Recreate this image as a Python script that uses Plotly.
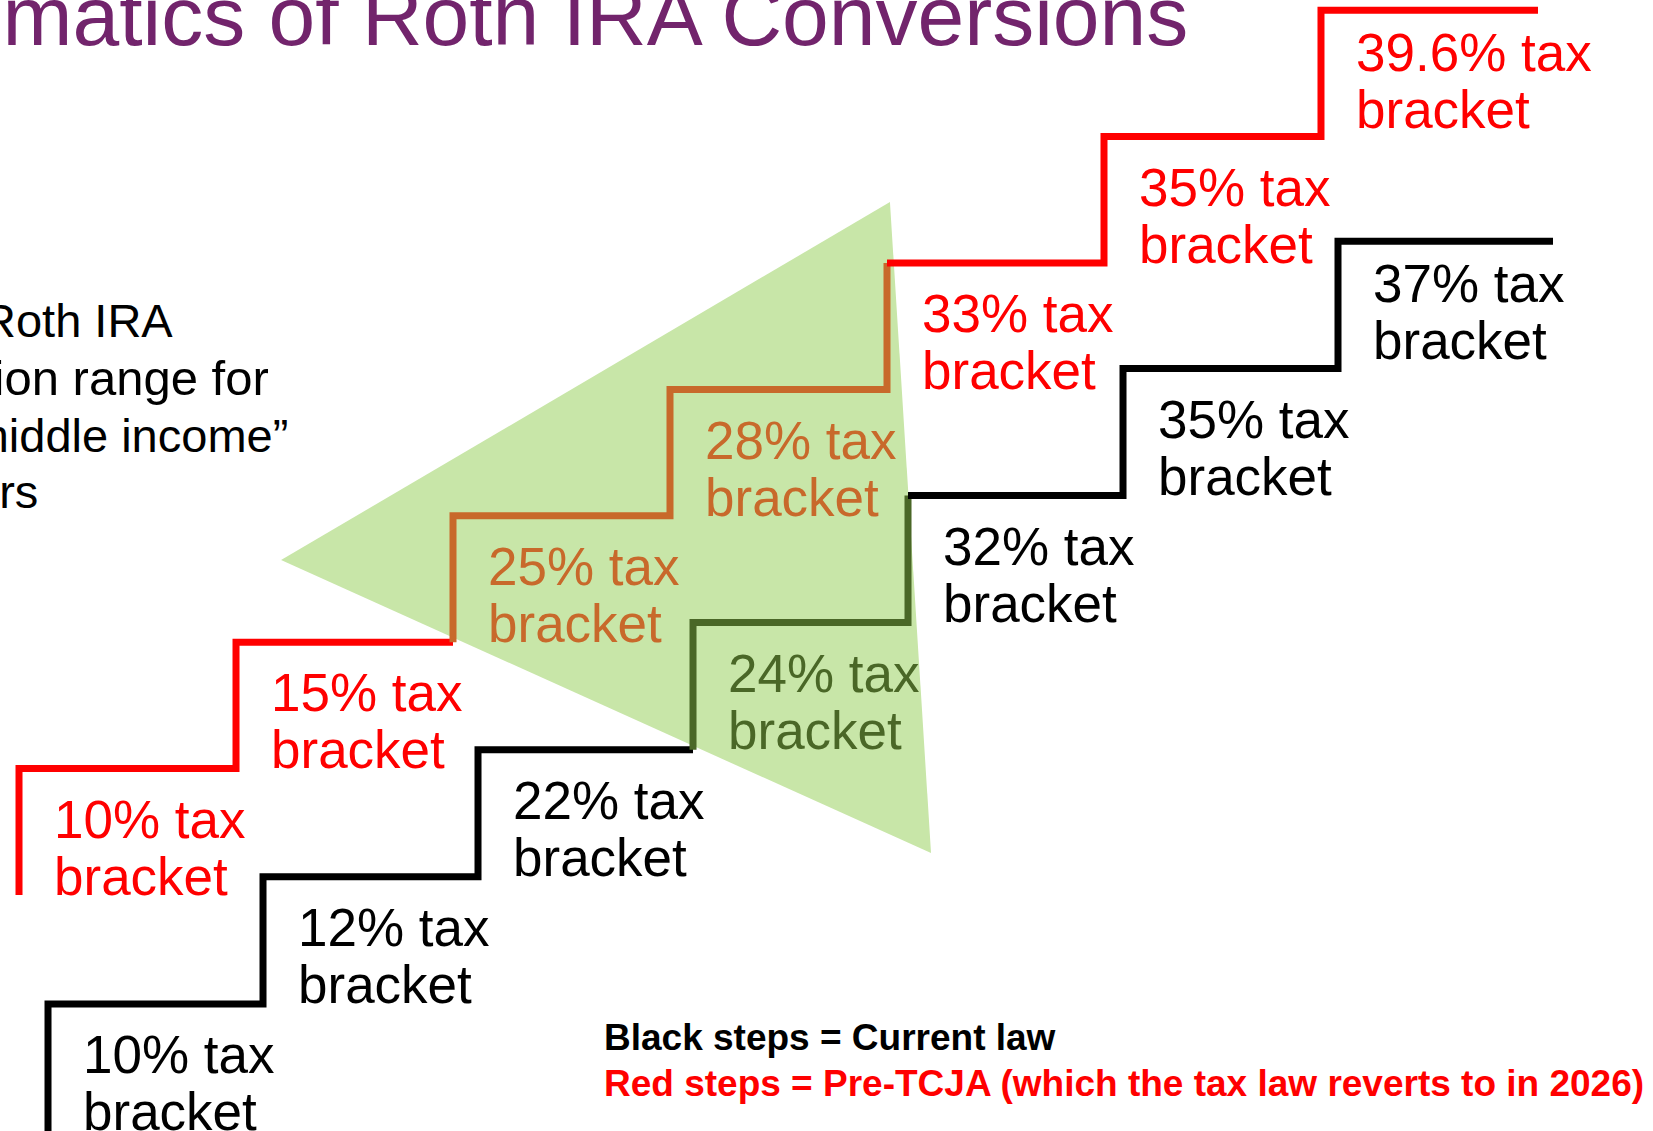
import plotly.graph_objects as go

# ---------------------------------------------------------------------------
# Data: marginal-rate brackets, one stair step per bracket
# ---------------------------------------------------------------------------
current_law_rates = ["10%", "12%", "22%", "24%", "32%", "35%", "37%"]
pre_tcja_rates = ["10%", "15%", "25%", "28%", "33%", "35%", "39.6%"]

title_text = "Mathematics of Roth IRA Conversions"
side_note_lines = ["Roth IRA", "conversion range for", "\u201cmiddle income\u201d", "earners"]
key_lines = [
    "Black steps = Current law",
    "Red steps = Pre-TCJA (which the tax law reverts to in 2026)",
]

# "Sweet spot" wedge, expressed in current-law step units (x = step, y = level)
wedge_x = [1.084, 3.916, 4.107]
wedge_y = [4.492, 7.309, 2.187]

# ---------------------------------------------------------------------------
# Styling / layout
# ---------------------------------------------------------------------------
FIG_W, FIG_H = 1653, 1131
FONT = "Liberation Sans, Arial, Helvetica, sans-serif"
RED = "#FF0000"
BLACK = "#000000"
ORANGE = "#C8692B"
OLIVE = "#4A6727"
WEDGE_FILL = "#C8E6A8"
PURPLE = "#72246C"
LINE_W = 7
LABEL_SIZE = 53
TITLE_SIZE = 84
KEY_SIZE = 37

# Both staircases are drawn on their own overlaid axis pair spanning the canvas
AXES = {
    "current": dict(x="x", y="y", xr=[-0.2233, 7.4651], yr=[0.0, 8.8985]),
    "pre": dict(x="x2", y="y2", xr=[-0.0876, 7.5300], yr=[-1.8671, 7.0807]),
}


def to_px(ax, x, y):
    """Convert axis units to canvas pixels (origin top-left)."""
    xr, yr = ax["xr"], ax["yr"]
    px = (x - xr[0]) / (xr[1] - xr[0]) * FIG_W
    py = (1 - (y - yr[0]) / (yr[1] - yr[0])) * FIG_H
    return px, py


wedge_px = [to_px(AXES["current"], x, y) for x, y in zip(wedge_x, wedge_y)]


def in_wedge(p):
    a, b, c = wedge_px

    def side(p1, p2, p3):
        return (p1[0] - p3[0]) * (p2[1] - p3[1]) - (p2[0] - p3[0]) * (p1[1] - p3[1])

    d1, d2, d3 = side(p, a, b), side(p, b, c), side(p, c, a)
    has_neg = d1 < 0 or d2 < 0 or d3 < 0
    has_pos = d1 > 0 or d2 > 0 or d3 > 0
    return not (has_neg and has_pos)


def stair_vertices(n):
    pts = [(0, 0)]
    for k in range(n):
        pts += [(k, k + 1), (k + 1, k + 1)]
    return pts


fig = go.Figure()

# Highlight wedge behind the steps
wedge_path = "M " + " L ".join(f"{x},{y}" for x, y in zip(wedge_x, wedge_y)) + " Z"
fig.add_shape(
    type="path", path=wedge_path, xref="x", yref="y",
    fillcolor=WEDGE_FILL, line=dict(width=0), layer="below",
)

schedules = [
    ("pre", pre_tcja_rates, RED, ORANGE),
    ("current", current_law_rates, BLACK, OLIVE),
]

for key, rates, base_col, hi_col in schedules:
    ax = AXES[key]
    pts = stair_vertices(len(rates))

    # split the staircase into runs: segments inside the wedge get the highlight colour
    runs = []
    for a, b in zip(pts[:-1], pts[1:]):
        mid = to_px(ax, (a[0] + b[0]) / 2, (a[1] + b[1]) / 2)
        col = hi_col if in_wedge(mid) else base_col
        if runs and runs[-1][0] == col:
            runs[-1][1].append(b)
        else:
            runs.append([col, [a, b]])

    for col, seg in runs:
        fig.add_trace(go.Scatter(
            x=[p[0] for p in seg], y=[p[1] for p in seg],
            mode="lines", line=dict(color=col, width=LINE_W),
            xaxis=ax["x"], yaxis=ax["y"],
            hoverinfo="skip", showlegend=False,
        ))

    # bracket labels under each tread
    for k, rate in enumerate(rates):
        tx, ty = to_px(ax, k + 0.5, k + 1)
        col = hi_col if in_wedge((tx, ty + 80)) else base_col
        drop = 61 if k == len(rates) - 1 else 69
        for i, line in enumerate([f"{rate} tax", "bracket"]):
            baseline = drop + 57 * i
            fig.add_annotation(
                x=k, y=k + 1, xref=ax["x"], yref=ax["y"],
                text=line, showarrow=False,
                xanchor="left", yanchor="middle",
                xshift=33, yshift=-(baseline - 0.3465 * LABEL_SIZE),
                font=dict(family=FONT, size=LABEL_SIZE, color=col),
            )


def paper_y(baseline_px, size):
    return 1 - (baseline_px - 0.3465 * size) / FIG_H


# Title (runs off the top-left of the canvas)
fig.add_annotation(
    x=1190 / FIG_W, y=paper_y(45, TITLE_SIZE), xref="paper", yref="paper",
    text=title_text, showarrow=False, xanchor="right", yanchor="middle",
    font=dict(family=FONT, size=TITLE_SIZE, color=PURPLE),
)

# Side note (partly cut by the left edge)
side_right = [175, 271, 290, 40]
side_base = [337, 395, 452, 508]
side_sizes = [47, 49, 47, 47]
for line, xr, yb, sz in zip(side_note_lines, side_right, side_base, side_sizes):
    fig.add_annotation(
        x=xr / FIG_W, y=paper_y(yb, sz), xref="paper", yref="paper",
        text=line, showarrow=False, xanchor="right", yanchor="middle",
        font=dict(family=FONT, size=sz, color=BLACK),
    )

# Key
for line, col, yb in zip(key_lines, [BLACK, RED], [1050, 1096]):
    fig.add_annotation(
        x=602 / FIG_W, y=paper_y(yb, KEY_SIZE), xref="paper", yref="paper",
        text=f"<b>{line}</b>", showarrow=False, xanchor="left", yanchor="middle",
        font=dict(family=FONT, size=KEY_SIZE, color=col),
    )

hidden = dict(visible=False, fixedrange=True, showgrid=False, zeroline=False)
fig.update_layout(
    width=FIG_W, height=FIG_H,
    margin=dict(l=0, r=0, t=0, b=0),
    paper_bgcolor="white", plot_bgcolor="white",
    showlegend=False,
    xaxis=dict(range=AXES["current"]["xr"], domain=[0, 1], **hidden),
    yaxis=dict(range=AXES["current"]["yr"], domain=[0, 1], **hidden),
    xaxis2=dict(range=AXES["pre"]["xr"], domain=[0, 1], overlaying="x", anchor="y2", **hidden),
    yaxis2=dict(range=AXES["pre"]["yr"], domain=[0, 1], overlaying="y", anchor="x2", **hidden),
)

fig.write_html("out.html")
